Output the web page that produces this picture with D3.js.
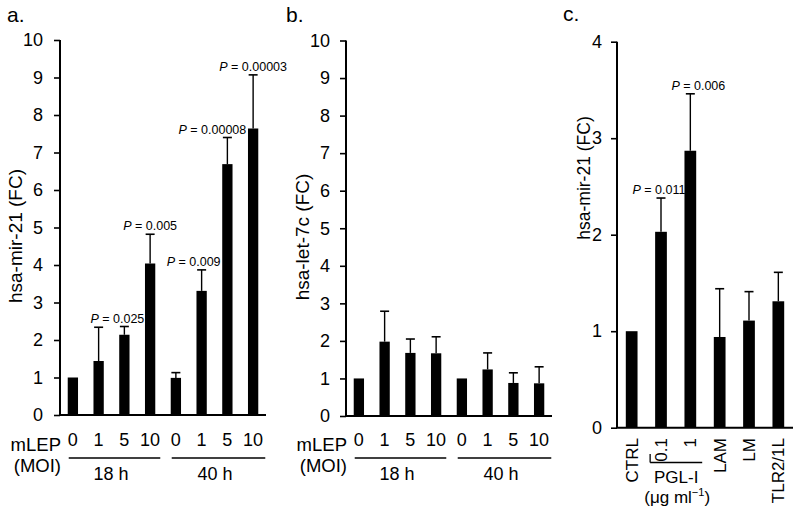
<!DOCTYPE html>
<html><head><meta charset="utf-8">
<script src="https://cdn.jsdelivr.net/npm/d3@7"></script>
<style>
html,body{margin:0;padding:0;background:#fff;}
text{font-family:"Liberation Sans",Arial,Helvetica,sans-serif;fill:#000;}
</style></head>
<body><svg id="c" width="800" height="511"></svg>
<script>
// ---------- data ----------
const moiLabels = ["0","1","5","10","0","1","5","10"];
const groupLabels = ["18 h","40 h"];
const mir21Mean = [1.00,1.44,2.14,4.04,0.99,3.31,6.69,7.64];
const mir21Err  = [0,0.90,0.22,0.78,0.14,0.56,0.71,1.43];
const mir21PIndex = [2,3,5,6,7];
const mir21PText  = ["0.025","0.005","0.009","0.00008","0.00003"];
const let7cMean = [1.00,1.98,1.68,1.67,1.00,1.24,0.88,0.87];
const let7cErr  = [0,0.81,0.37,0.44,0,0.44,0.27,0.44];
const cCategories = ["CTRL","0.1","1","LAM","LM","TLR2/1L"];
const cMean = [1.00,2.03,2.87,0.94,1.11,1.31];
const cErr  = [0,0.35,0.59,0.50,0.30,0.30];
const cPIndex = [1,2];
const cPText = ["0.011","0.006"];
const yTicksAB = [0,1,2,3,4,5,6,7,8,9,10];
const yTicksC = [0,1,2,3,4];

// ---------- layout ----------
const pDxA = [-7,0,-8,-15,0];
const pDxC = [-2,8];
const svg = d3.select("#c");

function panel(o){
  const g = svg.append("g");
  const n = o.mean.length;
  const x = d3.scaleBand().domain(d3.range(n)).range([o.x0,o.x1]).paddingInner(0.6).paddingOuter(0.3);
  const y = d3.scaleLinear().domain([0,o.ymax]).range([o.yb,o.yt]);
  // bars
  g.selectAll("rect.bar").data(o.mean).enter().append("rect")
    .attr("x",(d,i)=>x(i)).attr("width",x.bandwidth())
    .attr("y",d=>y(d)).attr("height",d=>y(0)-y(d)).attr("fill","#000");
  // error bars
  o.err.forEach((e,i)=>{
    if(!e) return;
    const cx = x(i)+x.bandwidth()/2;
    g.append("line").attr("x1",cx).attr("x2",cx).attr("y1",y(o.mean[i])).attr("y2",y(o.mean[i]+e))
      .attr("stroke","#000").attr("stroke-width",1.4);
    g.append("line").attr("x1",cx-4.5).attr("x2",cx+4.5).attr("y1",y(o.mean[i]+e)).attr("y2",y(o.mean[i]+e))
      .attr("stroke","#000").attr("stroke-width",1.6);
  });
  // y axis
  const ya = g.append("g").attr("transform",`translate(${o.x0},0)`)
    .call(d3.axisLeft(y).tickValues(o.ticks).tickFormat(d3.format("d")).tickSize(o.tick).tickPadding(o.pad));
  ya.select(".domain").attr("stroke-width",2).attr("d",`M${-0},${o.yt}V${o.yb}`);
  ya.selectAll(".tick line").attr("stroke-width",1.6);
  ya.selectAll("text").attr("font-size",o.tfs).attr("font-family","Liberation Sans, Arial, sans-serif");
  // x axis line
  g.append("line").attr("x1",o.x0-1).attr("x2",o.x1).attr("y1",y(0)).attr("y2",y(0))
    .attr("stroke","#000").attr("stroke-width",2);
  // p labels
  (o.pIdx||[]).forEach((bi,k)=>{
    const cx = x(bi)+x.bandwidth()/2 + o.pDx[k];
    const t = g.append("text").attr("x",cx).attr("y",y(o.mean[bi]+o.err[bi])-4)
      .attr("text-anchor","middle").attr("font-size",12.5);
    t.append("tspan").attr("font-style","italic").text("P");
    t.append("tspan").text(" = "+o.pText[k]);
  });
  // y label
  g.append("text").attr("transform",`translate(${o.ylx},${o.yly}) rotate(-90)`)
    .attr("text-anchor","middle").attr("font-size",o.ylfs).text(o.ylabel);
  // panel letter
  g.append("text").attr("x",o.lx).attr("y",o.ly).attr("font-size",21).text(o.letter);
  return {x,y,g};
}

function mlepPanel(o){
  const p = panel(o);
  const {x,g} = p;
  g.selectAll("text.xt").data(moiLabels).enter().append("text")
    .attr("x",(d,i)=>x(i)+x.bandwidth()/2).attr("y",446).attr("text-anchor","middle")
    .attr("font-size",18).text(d=>d);
  g.append("text").attr("x",o.x0+1).attr("y",451).attr("text-anchor","end").attr("font-size",18.5).text("mLEP");
  g.append("text").attr("x",o.x0+1).attr("y",472).attr("text-anchor","end").attr("font-size",18.5).text("(MOI)");
  groupLabels.forEach((gl,k)=>{
    const a = x(k*4), b = x(k*4+3)+x.bandwidth()+ (k===0?5:7);
    g.append("line").attr("x1",a+1).attr("x2",b).attr("y1",458).attr("y2",458).attr("stroke","#000").attr("stroke-width",1.3);
    g.append("text").attr("x",(a+b)/2-3).attr("y",480).attr("text-anchor","middle").attr("font-size",18).text(gl);
  });
}

mlepPanel({x0:60,x1:266,yt:40,yb:415,ymax:10,mean:mir21Mean,err:mir21Err,ticks:yTicksAB,tick:6,pad:11,tfs:18,
  pIdx:mir21PIndex,pText:mir21PText,pDx:pDxA,ylabel:"hsa-mir-21 (FC)",ylx:22,yly:236,ylfs:19,letter:"a.",lx:7,ly:22});
mlepPanel({x0:346,x1:552,yt:40.5,yb:416,ymax:10,mean:let7cMean,err:let7cErr,ticks:yTicksAB,tick:6,pad:10,tfs:18,
  ylabel:"hsa-let-7c (FC)",ylx:309,yly:237,ylfs:19,letter:"b.",lx:286,ly:22});

const pc = panel({x0:617,x1:793,yt:41.7,yb:427.7,ymax:4,mean:cMean,err:cErr,ticks:yTicksC,tick:6,pad:9,tfs:18,
  pIdx:cPIndex,pText:cPText,pDx:pDxC,ylabel:"hsa-mir-21 (FC)",ylx:590,yly:178,ylfs:17.5,letter:"c.",lx:563,ly:21});
// rotated category labels
pc.g.selectAll("text.ct").data(cCategories).enter().append("text")
  .attr("transform",(d,i)=>`translate(${pc.x(i)+pc.x.bandwidth()/2+6},438) rotate(-90)`)
  .attr("text-anchor","end").attr("font-size",17).text(d=>d);
// PGL-I group
const gx1 = pc.x(1)-5, gx2 = pc.x(2)+pc.x.bandwidth()+6;
pc.g.append("line").attr("x1",gx1).attr("x2",gx2).attr("y1",462.5).attr("y2",462.5).attr("stroke","#000").attr("stroke-width",1.3);
pc.g.append("line").attr("x1",gx1).attr("x2",gx1).attr("y1",454).attr("y2",462.5).attr("stroke","#000").attr("stroke-width",1.3);
pc.g.append("text").attr("x",(gx1+gx2)/2).attr("y",483).attr("text-anchor","middle").attr("font-size",17).text("PGL-I");
const ut = pc.g.append("text").attr("x",(gx1+gx2)/2+1).attr("y",503).attr("text-anchor","middle").attr("font-size",17);
ut.append("tspan").text("(μg ml");
ut.append("tspan").attr("font-size",11).attr("dy",-7).text("−1");
ut.append("tspan").attr("dy",7).text(")");
</script></body></html>
